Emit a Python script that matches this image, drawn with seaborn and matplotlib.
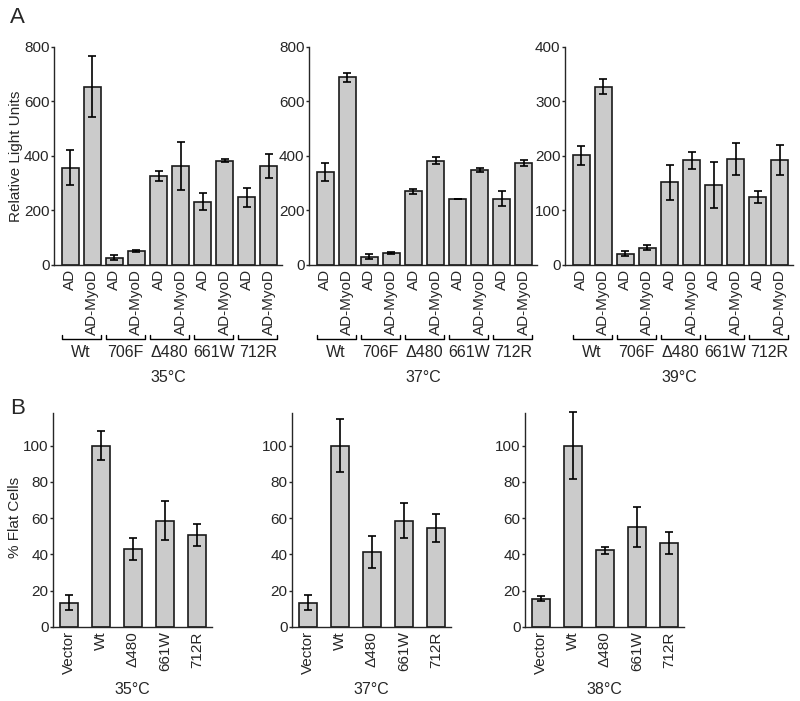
import numpy as np
import pandas as pd
import matplotlib
matplotlib.use("Agg")
import matplotlib.pyplot as plt
import matplotlib.transforms as mtransforms
import seaborn as sns

# ---- data ----
mutants = ["Wt", "706F", "\u0394480", "661W", "712R"]
constructs = ["AD", "AD-MyoD"]
temps_a = ["35\u00b0C", "37\u00b0C", "39\u00b0C"]

rlu_35 = [357, 655, 27, 52, 327, 363, 233, 383, 249, 365]
rlu_35_err = [64, 113, 10, 4, 19, 88, 30, 6, 35, 44]
rlu_37 = [342, 689, 31, 44, 270, 383, 242, 350, 243, 374]
rlu_37_err = [33, 16, 10, 5, 10, 13, 0, 7, 27, 12]
rlu_39 = [201, 327, 21, 32, 152, 192, 147, 194, 124, 193]
rlu_39_err = [18, 14, 5, 5, 32, 16, 42, 29, 11, 27]

strains = ["Vector", "Wt", "\u0394480", "661W", "712R"]
temps_b = ["35\u00b0C", "37\u00b0C", "38\u00b0C"]
flat_35 = [13.5, 100, 43, 58.7, 50.8]
flat_35_err = [4, 8, 6.3, 11, 6]
flat_37 = [13.5, 100, 41.4, 58.7, 54.7]
flat_37_err = [4, 14.7, 9, 9.5, 7.7]
flat_38 = [15.7, 100, 42.2, 55, 46.4]
flat_38_err = [1.6, 18.4, 2, 11, 5.9]

sns.set_style("ticks")
plt.rcParams["font.family"] = ["Liberation Sans", "DejaVu Sans"]
plt.rcParams["font.size"] = 11

BAR = "#cbcbcb"
EDGE = "#1a1a1a"
FS = 11

fig = plt.figure(figsize=(8, 7.01), dpi=100)


def style_axis(ax):
    sns.despine(ax=ax)
    ax.spines["left"].set_linewidth(1.0)
    ax.spines["bottom"].set_linewidth(1.0)
    ax.tick_params(axis="y", direction="out", length=2.2, width=1, pad=1, labelsize=FS)
    ax.tick_params(axis="x", length=0, pad=3, labelsize=FS)
    ax.set_xlabel("")
    ax.set_ylabel("")


# ---- panel A ----
top_lefts = [54, 309, 565]
top_sets = [(rlu_35, rlu_35_err, 800, 200),
            (rlu_37, rlu_37_err, 800, 200),
            (rlu_39, rlu_39_err, 400, 100)]
labels_a = [f"{m}|{c}" for m in mutants for c in constructs]
for i, (vals, errs, ymax, step) in enumerate(top_sets):
    ax = fig.add_axes([top_lefts[i] / 800, 1 - 265 / 701, 228 / 800, 218 / 701])
    df = pd.DataFrame({"label": labels_a, "value": vals})
    sns.barplot(data=df, x="label", y="value", order=labels_a, color=BAR,
                edgecolor=EDGE, linewidth=1.2, width=0.77, saturation=1,
                errorbar=None, ax=ax)
    ax.errorbar(np.arange(len(vals)), vals, yerr=errs, fmt="none",
                ecolor="black", elinewidth=1.2, capsize=3, capthick=1.2,
                clip_on=False)
    ax.set_xlim(-0.73, 9.59)
    ax.set_ylim(0, ymax)
    ax.set_yticks(np.arange(0, ymax + 1, step))
    ax.set_xticks(np.arange(len(vals)))
    ax.set_xticklabels(constructs * len(mutants), rotation=90, va="top", ha="center")
    style_axis(ax)
    if i == 0:
        ax.set_ylabel("Relative Light Units", fontsize=FS)
        ax.yaxis.set_label_coords(-0.135, 0.5)
    trans = mtransforms.blended_transform_factory(ax.transData, ax.transAxes)
    for g, m in enumerate(mutants):
        x0 = 2 * g - 0.385
        x1 = 2 * g + 1 + 0.385
        ax.plot([x0, x0, x1, x1], [-0.322, -0.339, -0.339, -0.322],
                color="black", lw=1.0, transform=trans, clip_on=False)
        ax.text(2 * g + 0.5, -0.40, m, transform=trans, ha="center",
                va="center", fontsize=11.5)
    ax.text(0.5, -0.518, temps_a[i], transform=ax.transAxes, ha="center",
            va="center", fontsize=11.5)

# ---- panel B ----
bot_lefts = [53, 292, 525]
bot_sets = [(flat_35, flat_35_err), (flat_37, flat_37_err), (flat_38, flat_38_err)]
for i, (vals, errs) in enumerate(bot_sets):
    ax = fig.add_axes([bot_lefts[i] / 800, 1 - 627 / 701, 159 / 800, 214 / 701])
    df = pd.DataFrame({"strain": strains, "value": vals})
    sns.barplot(data=df, x="strain", y="value", order=strains, color=BAR,
                edgecolor=EDGE, linewidth=1.2, width=0.55, saturation=1,
                errorbar=None, ax=ax)
    ax.errorbar(np.arange(len(vals)), vals, yerr=errs, fmt="none",
                ecolor="black", elinewidth=1.2, capsize=3, capthick=1.2,
                clip_on=False)
    ax.set_xlim(-0.5, 4.47)
    ax.set_ylim(0, 118)
    ax.set_yticks(np.arange(0, 101, 20))
    ax.set_xticks(np.arange(len(vals)))
    ax.set_xticklabels(strains, rotation=90, va="top", ha="center")
    style_axis(ax)
    if i == 0:
        ax.set_ylabel("% Flat Cells", fontsize=FS)
        ax.yaxis.set_label_coords(-0.195, 0.51)
    ax.text(0.5, -0.294, temps_b[i], transform=ax.transAxes, ha="center",
            va="center", fontsize=11.5)

fig.text(0.013, 0.99, "A", fontsize=16, va="top", ha="left")
fig.text(0.013, 1 - 398 / 701, "B", fontsize=16, va="top", ha="left")

fig.savefig("out.png", dpi=100)
